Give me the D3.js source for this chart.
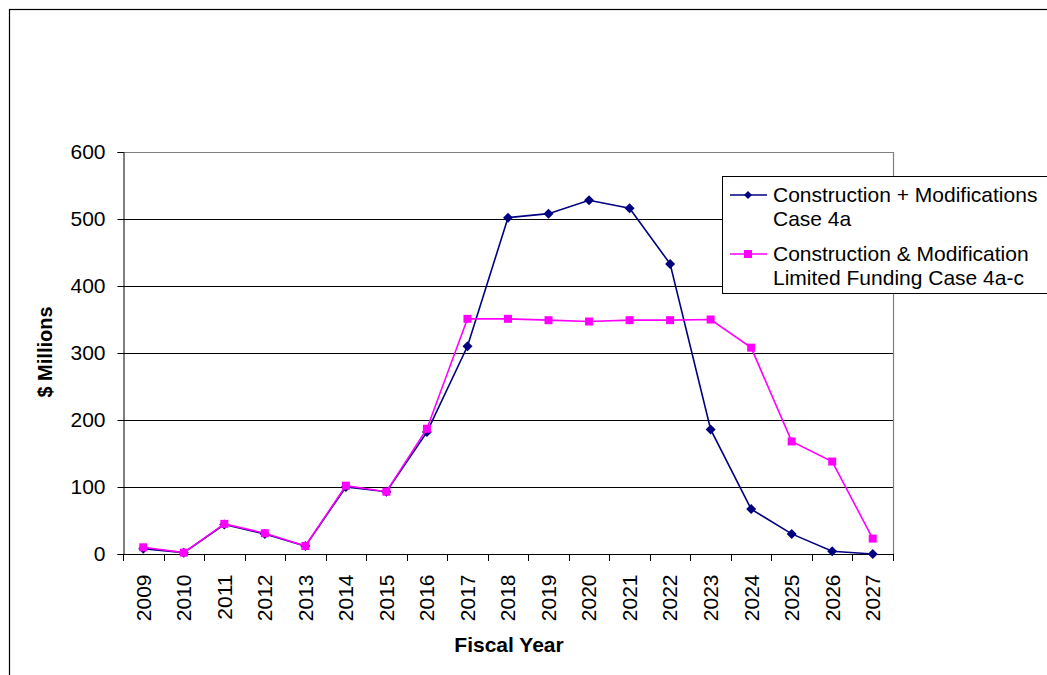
<!DOCTYPE html>
<html><head><meta charset="utf-8">
<script src="https://cdn.jsdelivr.net/npm/d3@7"></script>
<style>body{margin:0;background:#fff;}svg{display:block;font-family:"Liberation Sans",Arial,sans-serif;}</style>
</head><body>
<svg id="c" width="1047" height="675"></svg>
<script>
const years = ["2009","2010","2011","2012","2013","2014","2015","2016","2017","2018","2019","2020","2021","2022","2023","2024","2025","2026","2027"];
const case4a = [8,2,44,30,12,100,93,182,310,502,508,528,516,433,186,67,30,4,0];
const case4ac = [10,2,45,31,12,102,93,187,351,351,349,347,349,349,350,308,168,138,23];
const yTicks = [0,100,200,300,400,500,600];
const seriesNames = [["Construction + Modifications","Case 4a"],["Construction & Modification","Limited Funding Case 4a-c"]];

const svg = d3.select("#c");
const L=123, R=893, T=152, B=554;
const x = d3.scaleBand().domain(years).range([L,R]);
const y = d3.scaleLinear().domain([0,600]).range([B,T]);

// outer frame
svg.append("rect").attr("x",9.5).attr("y",9.5).attr("width",1100).attr("height",700)
  .attr("fill","none").attr("stroke","#000").attr("stroke-width",1.2);

// gridlines
svg.append("g").selectAll("line").data(yTicks.filter(d=>d>0&&d<600)).join("line")
  .attr("x1",L).attr("x2",R).attr("y1",d=>Math.round(y(d))+0.5).attr("y2",d=>Math.round(y(d))+0.5)
  .attr("stroke","#000").attr("stroke-width",1);
// plot border top/right
svg.append("path").attr("d",`M${L},${T+0.5}H${R+0.5}V${B}`).attr("fill","none").attr("stroke","#808080").attr("stroke-width",1.2);

// y axis
const yAxis = d3.axisLeft(y).tickValues(yTicks).tickSize(6).tickPadding(12).tickFormat(d3.format("d"));
const gy = svg.append("g").attr("transform",`translate(${L+0.5},0)`).call(yAxis);
gy.select(".domain").attr("stroke","#000");
gy.selectAll(".tick line").attr("stroke","#000");
gy.selectAll("text").attr("font-size",21).attr("fill","#000").attr("font-family","Liberation Sans, Arial, sans-serif");

// x axis
const gx = svg.append("g").attr("transform",`translate(0,${B+0.5})`)
  .call(d3.axisBottom(x).tickSize(0).tickFormat(d=>d));
gx.select(".domain").attr("stroke","#000").attr("d",`M${L},0H${R}`);
gx.selectAll(".tick text").attr("font-size",21).attr("fill","#000")
  .attr("font-family","Liberation Sans, Arial, sans-serif")
  .attr("transform","translate(0,20) rotate(-90)").attr("text-anchor","end")
  .attr("dy","0.35em").attr("x",0).attr("y",0);
// tick marks at band boundaries
const bounds = years.map(d=>x(d)).concat([R]);
svg.append("g").selectAll("line").data(bounds).join("line")
  .attr("x1",d=>Math.round(d)+0.5).attr("x2",d=>Math.round(d)+0.5).attr("y1",B).attr("y2",B+7)
  .attr("stroke","#000").attr("stroke-width",1);

// axis titles
svg.append("text").attr("transform","translate(52,352) rotate(-90)").attr("text-anchor","middle")
  .attr("font-size",20).attr("font-weight","bold").text("$ Millions");
svg.append("text").attr("x",509).attr("y",652).attr("text-anchor","middle")
  .attr("font-size",21).attr("font-weight","bold").text("Fiscal Year");

const line = d3.line().x((d,i)=>x(years[i])+x.bandwidth()/2).y(d=>y(d));
const diamond = "M0,-5L5,0L0,5L-5,0Z";

// navy series
svg.append("path").datum(case4a).attr("d",line).attr("fill","none").attr("stroke","#000080").attr("stroke-width",1.6);
svg.append("g").selectAll("path").data(case4a).join("path")
  .attr("d",diamond).attr("transform",(d,i)=>`translate(${x(years[i])+x.bandwidth()/2},${y(d)})`).attr("fill","#000080");
// pink series
svg.append("path").datum(case4ac).attr("d",line).attr("fill","none").attr("stroke","#FF00FF").attr("stroke-width",1.6);
svg.append("g").selectAll("rect").data(case4ac).join("rect")
  .attr("x",(d,i)=>x(years[i])+x.bandwidth()/2-4).attr("y",d=>y(d)-4).attr("width",8).attr("height",8).attr("fill","#FF00FF");

// legend
const lg = svg.append("g");
lg.append("rect").attr("x",722.5).attr("y",176.5).attr("width",330).attr("height",117).attr("fill","#fff").attr("stroke","#000").attr("stroke-width",1);
const colors = ["#000080","#FF00FF"];
const ly = [195,254];
seriesNames.forEach((nm,i)=>{
  lg.append("line").attr("x1",730).attr("x2",767).attr("y1",ly[i]).attr("y2",ly[i]).attr("stroke",colors[i]).attr("stroke-width",1.6);
  if(i===0) lg.append("path").attr("d","M0,-4L4,0L0,4L-4,0Z").attr("transform",`translate(748,${ly[i]})`).attr("fill",colors[i]);
  else lg.append("rect").attr("x",744).attr("y",ly[i]-4).attr("width",8).attr("height",8).attr("fill",colors[i]);
  const t = lg.append("text").attr("x",773).attr("y",ly[i]+7).attr("font-size",21);
  t.append("tspan").attr("x",773).text(nm[0]);
  t.append("tspan").attr("x",773).attr("dy",24).text(nm[1]);
});
</script>
</body></html>
